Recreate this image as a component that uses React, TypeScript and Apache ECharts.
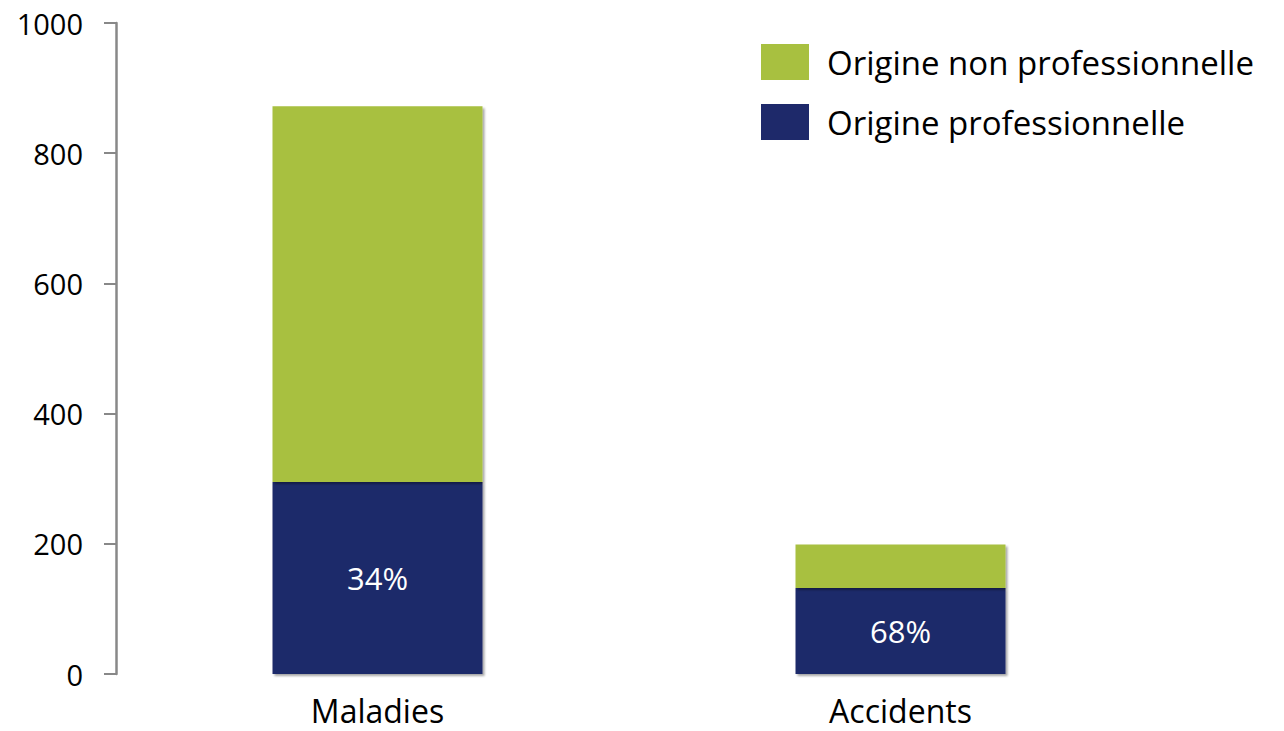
import React, { useEffect, useRef } from "react";
import * as echarts from "echarts";

const categories = ["Maladies", "Accidents"];
const professionnelle = [295, 132];
const nonProfessionnelle = [577, 67];
const percentLabels = ["34%", "68%"];
const yTicks = [0, 200, 400, 600, 800, 1000];

const GREEN = "#A8C040";
const BLUE = "#1E296A";
const FONT = "Open Sans";

export default function App() {
  const ref = useRef<HTMLDivElement>(null);
  useEffect(() => {
    if (!ref.current) return;
    const chart = echarts.init(ref.current, null, { renderer: "svg" });
    const shadow = {
      shadowColor: "rgba(0,0,0,0.35)",
      shadowOffsetX: 2,
      shadowOffsetY: 2,
      shadowBlur: 2,
    };
    chart.setOption({
      animation: false,
      backgroundColor: "#ffffff",
      textStyle: { fontFamily: FONT },
      grid: { left: 116, right: 122, top: 23, bottom: 57, containLabel: false },
      legend: {
        orient: "vertical",
        left: 761,
        top: 44,
        padding: 0,
        itemWidth: 48,
        itemHeight: 36,
        itemGap: 24,
        icon: "rect",
        data: ["Origine non professionnelle", "Origine professionnelle"],
        textStyle: { fontFamily: FONT, fontSize: 33, color: "#000", padding: [0, 0, 0, 13] },
      },
      xAxis: {
        type: "category",
        data: categories,
        axisLine: { show: false },
        axisTick: { show: false },
        axisLabel: { fontFamily: FONT, fontSize: 32, lineHeight: 30, color: "#000", margin: 21 },
      },
      yAxis: {
        type: "value",
        min: yTicks[0],
        max: yTicks[yTicks.length - 1],
        interval: 200,
        splitLine: { show: false },
        axisLine: { show: true, lineStyle: { color: "#888888", width: 2.5 } },
        axisTick: { show: true, length: 12, lineStyle: { color: "#888888", width: 2 } },
        axisLabel: {
          fontFamily: FONT,
          fontSize: 29,
          color: "#000",
          margin: 33,
          formatter: (v: number) => String(v),
        },
      },
      series: [
        {
          name: "Origine professionnelle",
          type: "bar",
          stack: "total",
          barWidth: 210,
          data: professionnelle,
          itemStyle: { color: BLUE, ...shadow },
          label: {
            show: true,
            position: "inside",
            fontFamily: FONT,
            fontSize: 31,
            color: "#fff",
            formatter: (p: any) => percentLabels[p.dataIndex],
          },
        },
        {
          name: "Origine non professionnelle",
          type: "bar",
          stack: "total",
          barWidth: 210,
          data: nonProfessionnelle,
          itemStyle: { color: GREEN, ...shadow },
        },
      ],
    });
    return () => chart.dispose();
  }, []);
  return (
    <div
      ref={ref}
      style={{ position: "absolute", left: 0, top: 0, width: 1284, height: 731 }}
    />
  );
}
